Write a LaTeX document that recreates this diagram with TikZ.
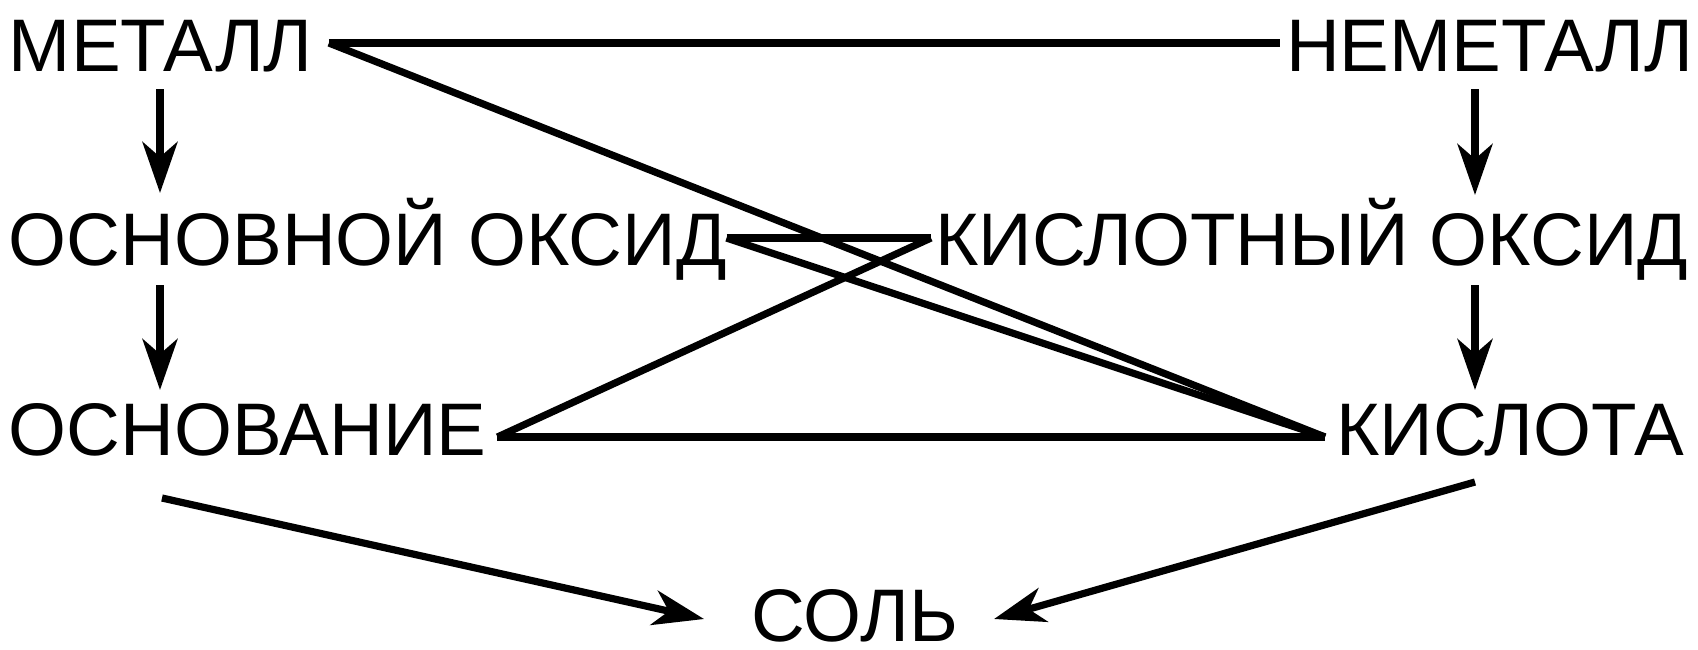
\documentclass[tikz,border=0pt]{standalone}
\usepackage{fontspec}
\setmainfont{Liberation Sans}
\usetikzlibrary{arrows.meta,calc}
\begin{document}
\begin{tikzpicture}[x=1pt,y=-1pt,
  lbl/.style={anchor=base west,inner sep=0pt,outer sep=0pt,
    text height=54pt,text depth=0pt,
    font=\fontsize{74.5}{80}\selectfont},
  link/.style={line width=7.2pt},
  arr/.style={line width=7.2pt,-{Stealth[length=51pt,width=35pt,inset=15pt]}}]
\useasboundingbox (0,0) rectangle (1698,649);

% substances
\node[lbl] (met)  at (9,71.5)    {МЕТАЛЛ};
\node[lbl] (nmet) at (1286,71.5) {НЕМЕТАЛЛ};
\node[lbl] (boks) at (9,265)     {ОСНОВНОЙ ОКСИД};
\node[lbl] (koks) at (935,265)   {КИСЛОТНЫЙ ОКСИД};
\node[lbl] (osn)  at (9,455)     {ОСНОВАНИЕ};
\node[lbl] (kis)  at (1336,455)  {КИСЛОТА};
\node[lbl] (sol)  at (751,641)   {СОЛЬ};

% attachment points around the labels
\coordinate (metR)  at ($(met.base east)+(16,-28.5)$);
\coordinate (metD)  at ($(met.base west)+(151,17.5)$);
\coordinate (nmetL) at ($(nmet.base west)+(-6,-28.5)$);
\coordinate (nmetD) at ($(nmet.base west)+(189,17.5)$);
\coordinate (boksU) at ($(boks.base west)+(151,-72)$);
\coordinate (boksR) at ($(boks.base east)+(0,-27)$);
\coordinate (boksD) at ($(boks.base west)+(151,20)$);
\coordinate (koksU) at ($(koks.base west)+(540,-70)$);
\coordinate (koksL) at ($(koks.base west)+(-4,-27)$);
\coordinate (koksD) at ($(koks.base west)+(540,20)$);
\coordinate (osnU)  at ($(osn.base west)+(151,-65)$);
\coordinate (osnR)  at ($(osn.base east)+(11,-18)$);
\coordinate (osnD)  at ($(osn.base west)+(153,43)$);
\coordinate (kisU)  at ($(kis.base west)+(139,-65)$);
\coordinate (kisL)  at ($(kis.base west)+(-11,-18)$);
\coordinate (kisD)  at ($(kis.base west)+(139,27)$);
\coordinate (solL)  at ($(sol.base west)+(-47,-22)$);
\coordinate (solR)  at ($(sol.base east)+(36,-22)$);

% genetic links
\draw[link] (metR) -- (nmetL);
\draw[link] (metR) -- (kisL);
\draw[link] (boksR) -- (koksL);
\draw[link] (boksR) -- (kisL);
\draw[link] (koksL) -- (osnR);
\draw[link] (osnR) -- (kisL);

% transformations
\draw[arr] (metD) -- (boksU);
\draw[arr] (nmetD) -- (koksU);
\draw[arr] (boksD) -- (osnU);
\draw[arr] (koksD) -- (kisU);
\draw[arr] (osnD) -- (solL);
\draw[arr] (kisD) -- (solR);
\end{tikzpicture}
\end{document}
